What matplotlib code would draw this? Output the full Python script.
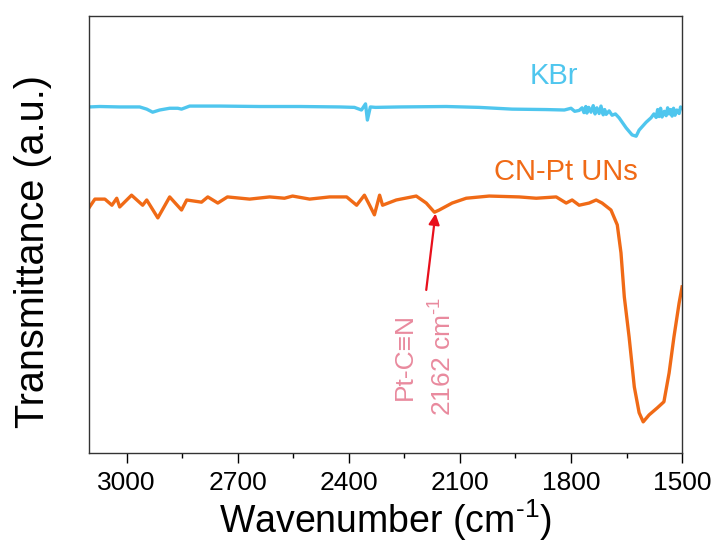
import matplotlib
matplotlib.use('Agg')
import matplotlib.pyplot as plt
from matplotlib.ticker import MultipleLocator

plt.rcParams['font.family'] = ['Liberation Sans', 'DejaVu Sans']
plt.rcParams['mathtext.fontset'] = 'custom'
plt.rcParams['mathtext.rm'] = 'Liberation Sans'
plt.rcParams['mathtext.default'] = 'regular'

# KBr reference spectrum (wavenumber, transmittance a.u.)
kbr_wn = [3102, 3073, 3019, 2965, 2946, 2930, 2911, 2884, 2862, 2852, 2830, 2749,
          2641, 2533, 2425, 2385, 2366, 2355, 2350, 2342, 2328, 2263, 2137, 2048,
          1959, 1867, 1818, 1800, 1790, 1778, 1770, 1765, 1760, 1757, 1752, 1746,
          1740, 1735, 1730, 1724, 1719, 1713, 1709, 1705, 1697, 1689, 1680,
          1670, 1651, 1635, 1624, 1616, 1597, 1584, 1576, 1570, 1566, 1562, 1558,
          1554, 1548, 1543, 1539, 1535, 1531, 1527, 1523, 1519, 1514, 1508, 1504,
          1500]
kbr_t = [79.2, 79.3, 79.2, 79.2, 78.7, 78.0, 78.5, 78.9, 78.9, 78.7, 79.4, 79.4,
         79.3, 79.3, 79.2, 79.1, 78.5, 79.9, 76.2, 79.2, 79.1, 79.2, 79.3, 79.1,
         78.7, 78.6, 78.5, 78.9, 78.2, 78.4, 79.0, 77.9, 79.3, 77.8, 79.1, 78.0,
         79.5, 77.6, 79.0, 77.7, 79.4, 77.4, 78.6, 77.5, 78.3, 77.3, 77.6,
         76.7, 74.4, 72.8, 72.5, 73.9, 75.7, 76.7, 77.6, 76.8, 78.6, 77.0, 78.9,
         76.9, 78.2, 77.2, 79.0, 77.6, 78.6, 77.1, 78.9, 77.3, 78.5, 77.7, 79.2,
         78.9]

# CN-Pt UNs spectrum
cnpt_wn = [3102, 3086, 3059, 3040, 3027, 3019, 2987, 2957, 2946, 2916, 2884, 2852,
           2838, 2798, 2781, 2754, 2728, 2668, 2614, 2574, 2552, 2506, 2452, 2406,
           2379, 2358, 2344, 2331, 2317, 2309, 2272, 2218, 2191, 2169, 2156, 2121,
           2083, 2021, 1940, 1894, 1840, 1813, 1797, 1778, 1751, 1732, 1716, 1692,
           1675, 1665, 1656, 1643, 1629, 1616, 1605, 1589, 1567, 1549, 1535, 1522,
           1508, 1500]
cnpt_t = [56.1, 58.1, 58.1, 56.7, 58.3, 56.3, 59.0, 56.7, 57.9, 53.8, 58.6, 55.6,
          57.9, 57.4, 58.6, 57.2, 58.6, 58.1, 58.6, 58.3, 58.8, 58.1, 58.6, 58.6,
          56.7, 59.0, 56.7, 54.5, 59.0, 56.7, 57.9, 58.8, 57.2, 55.1, 55.6, 57.2,
          58.3, 58.8, 58.6, 58.3, 58.6, 57.2, 57.9, 56.7, 57.2, 57.9, 57.2, 55.6,
          52.2, 45.8, 35.7, 26.5, 15.1, 9.2, 7.1, 8.7, 10.3, 11.7, 18.3, 26.5,
          34.3, 38.0]

kbr_color = '#4FC6EE'
cnpt_color = '#F06A16'

fig = plt.figure(figsize=(7.21, 5.55), dpi=100)
ax = fig.add_axes([0.1234, 0.184, 0.8226, 0.787])

ax.plot(kbr_wn, kbr_t, color=kbr_color, lw=2.4)
ax.plot(cnpt_wn, cnpt_t, color=cnpt_color, lw=2.4)

ax.set_xlim(3102, 1500)
ax.set_ylim(0, 100)

ax.text(1845, 86.3, 'KBr', color=kbr_color, fontsize=21, ha='center', va='center')
ax.text(1813, 64.3, 'CN-Pt UNs', color=cnpt_color, fontsize=21, ha='center', va='center')

# Pt-C≡N band marker
ax.annotate('', xy=(2166, 54.8), xytext=(2191, 37.3),
            arrowprops=dict(arrowstyle='-|>', color='#E8101C', lw=1.6,
                            mutation_scale=16, shrinkA=0, shrinkB=0))
ax.text(2195, 22.0, 'Pt-C\u2261N\n2162 cm$^{\u20101}$', rotation=90, color='#E98A9E',
        fontsize=19, ha='center', va='center', multialignment='center',
        linespacing=1.55)

ax.xaxis.set_major_locator(MultipleLocator(300))
ax.xaxis.set_minor_locator(MultipleLocator(150))
ax.tick_params(axis='x', which='major', direction='out', length=7, width=1,
               labelsize=19, pad=6)
ax.tick_params(axis='x', which='minor', direction='out', length=3.5, width=1)
ax.set_yticks([])
for s in ax.spines.values():
    s.set_color('#333333')
    s.set_linewidth(1)

ax.set_xlabel('Wavenumber (cm$^{\u20101}$)', fontsize=27, labelpad=2)
ax.set_ylabel('Transmittance (a.u.)', fontsize=28.5)
ax.yaxis.set_label_coords(-0.062, 0.46)

plt.savefig('out.png', dpi=100)
